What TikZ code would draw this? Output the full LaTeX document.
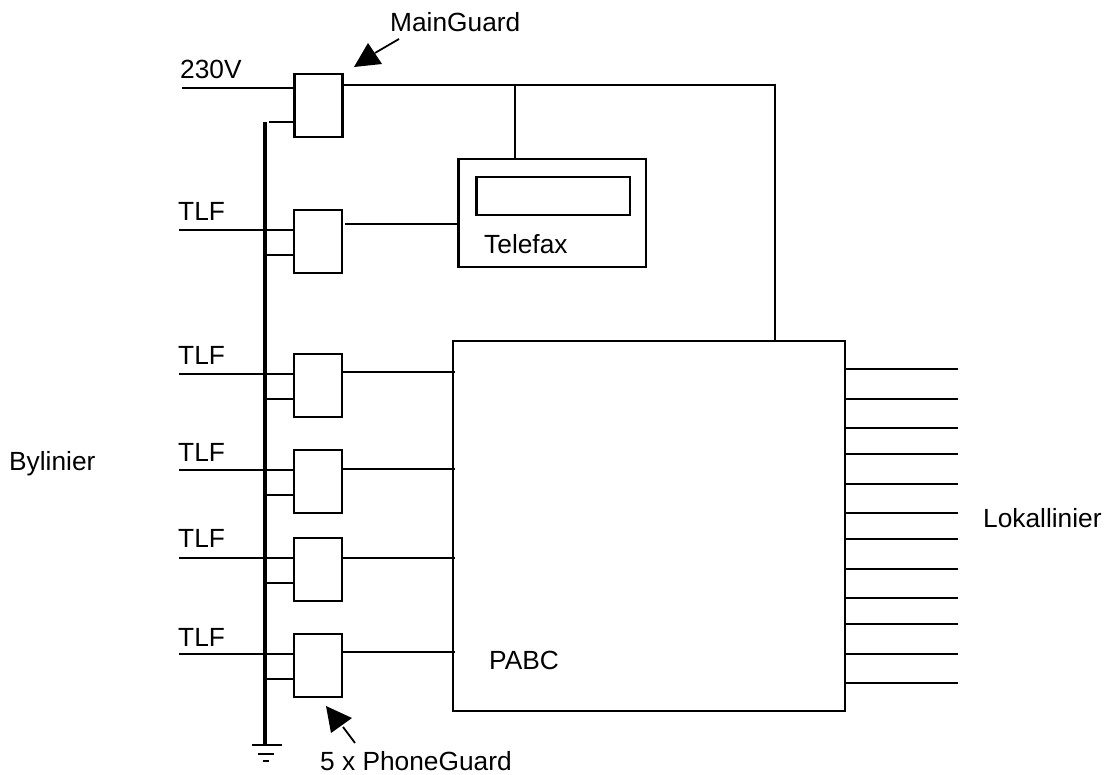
\documentclass[tikz,border=0pt]{standalone}
\usepackage{fontspec}
\setmainfont{Liberation Sans}
\tikzset{
  guard/.style={draw,line width=2.95pt,rectangle,anchor=north west,inner sep=0pt,outer sep=0pt,minimum width=48pt,minimum height=63pt},
  plainbox/.style={draw,line width=2.4pt,rectangle,anchor=north west,inner sep=0pt,outer sep=0pt},
  wire/.style={line width=2.4pt},
  buswire/.style={line width=3.1pt},
  label/.style={anchor=base west,inner sep=0pt,font=\fontsize{26.3}{30}\selectfont},
  pointer/.style={fill=black,draw=none},
  pointertail/.style={line width=1.8pt}
}
\begin{document}
\begin{tikzpicture}[x=1pt,y=-1pt]
\useasboundingbox (0,0) rectangle (1108,775);
% Boxes
\node[guard] (mg) at (294.5,74) {};
\node[plainbox,minimum width=187.5pt,minimum height=108pt] (fax) at (458.5,159) {};
\node[plainbox,minimum width=153.5pt,minimum height=38pt] (disp) at (476.5,177) {};
\node[plainbox,minimum width=392pt,minimum height=370pt] (pabc) at (453,341) {};
% Bus and ground
\coordinate (bust) at (265,122);
\coordinate (busb) at (265,745);
\draw[buswire] (bust) -- (busb);
\coordinate (ga) at (252,745); \coordinate (gb) at (282,745);
\coordinate (gc) at (258,754); \coordinate (gd) at (274,754);
\coordinate (ge) at (263,761); \coordinate (gf) at (269,761);
\draw[wire] (ga) -- (gb);
\draw[wire] (gc) -- (gd);
\draw[wire] (ge) -- (gf);
% MainGuard wiring
\coordinate (in) at (182,88);
\draw[wire] (in) -- (in -| mg.west);
\coordinate (mgg) at (269,122);
\draw[wire] (mgg) -- (mgg -| mg.west);
\coordinate (feed) at (344,85);
\coordinate (corner) at (775,85);
\draw[wire] (feed) -- (corner) -- (corner |- pabc.north);
\coordinate (tee) at (515,85);
\draw[wire] (tee) -- (tee |- fax.north);
% PhoneGuards
\foreach \nm/\top/\inl/\gnd/\out/\tail/\stop/\gap in {
  b2/210/230/255/224/179/458/3,
  b3/354/374/399/372/179/455/0,
  b4/450/470/495/469/179/455/0,
  b5/538/558/583/558/179/455/0,
  b6/634/654/679/652/179/455/0}{
  \node[guard] (\nm) at (294,\top) {};
  \coordinate (\nm i) at (\tail,\inl);
  \coordinate (\nm g) at (265,\gnd);
  \coordinate (\nm o) at (\stop,\out);
  \draw[wire] (\nm i) -- (\nm i -| \nm.west);
  \draw[wire] (\nm g) -- (\nm g -| \nm.west);
  \draw[wire,shorten <=\gap pt] (\nm o -| \nm.east) -- (\nm o);
}
% Local lines
\foreach \y [count=\i] in {369,399,428,454,484,513,539,569,598,624,654,683}{
  \coordinate (loc\i) at (958,\y);
  \draw[wire] (loc\i -| pabc.east) -- (loc\i);
}
% Pointers
\coordinate (ma) at (354,67); \coordinate (mb) at (368,43); \coordinate (mc) at (382,64);
\coordinate (md) at (375,53); \coordinate (me) at (399,39);
\fill[pointer] (ma) -- (mb) -- (mc) -- cycle;
\draw[pointertail] (md) -- (me);
\coordinate (pa) at (326,706); \coordinate (pb) at (352,718); \coordinate (pc) at (331,733);
\coordinate (pd) at (343,727); \coordinate (pe) at (355,743);
\fill[pointer] (pa) -- (pb) -- (pc) -- cycle;
\draw[pointertail] (pd) -- (pe);
% Labels
\node[label] (tmg) at (390,32) {MainGuard};
\node[label] (t230) at (180,79) {230V};
\node[label] (tl2) at (178,221) {TLF};
\node[label] (tl3) at (178,365) {TLF};
\node[label] (tl4) at (178,461) {TLF};
\node[label] (tl5) at (178,547) {TLF};
\node[label] (tl6) at (178,646) {TLF};
\node[label] (tfax) at (484,254) {Telefax};
\node[label] (tby) at (9,470) {Bylinier};
\node[label] (tlo) at (983,527) {Lokallinier};
\node[label] (tpa) at (489,669) {PABC};
\node[label] (tpg) at (320,770) {5 x PhoneGuard};
\end{tikzpicture}
\end{document}
